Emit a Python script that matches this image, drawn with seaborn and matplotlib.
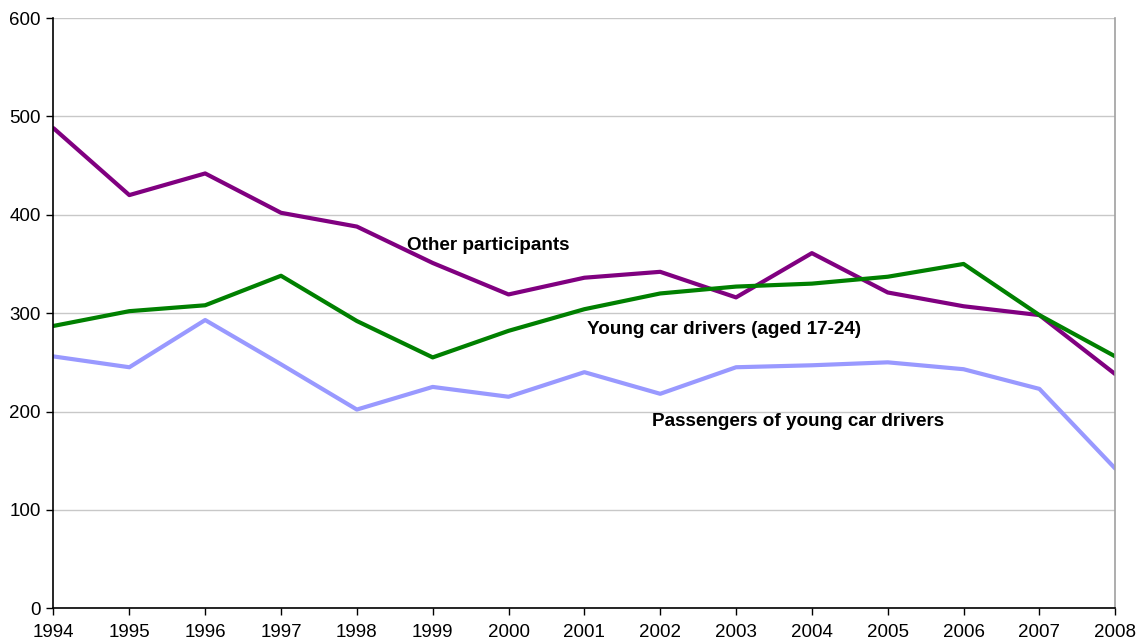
import numpy as np
import pandas as pd
import matplotlib
matplotlib.use("Agg")
import matplotlib.pyplot as plt
import seaborn as sns

sns.set_theme(style="white")
plt.rcParams['font.family'] = ['Liberation Sans', 'DejaVu Sans']

# ---- data ----
years = list(range(1994, 2009))
other_participants = [488, 420, 442, 402, 388, 351, 319, 336, 342, 316, 361, 321, 307, 298, 238]
young_drivers = [287, 302, 308, 338, 292, 255, 282, 304, 320, 327, 330, 337, 350, 298, 256]
passengers = [256, 245, 293, 248, 202, 225, 215, 240, 218, 245, 247, 250, 243, 223, 142]

series_names = ["Other participants", "Young car drivers (aged 17-24)", "Passengers of young car drivers"]
colors = ["#800080", "#008000", "#9999FF"]

df = pd.DataFrame({
    "year": years * 3,
    "value": other_participants + young_drivers + passengers,
    "series": np.repeat(series_names, len(years)),
})

fig = plt.figure(figsize=(11.38, 6.43), dpi=100)
ax = fig.add_axes([0.047, 0.054, 0.933, 0.918])

sns.lineplot(data=df, x="year", y="value", hue="series", palette=colors,
             linewidth=3, legend=False, ax=ax)

ax.set_xlim(1994, 2008)
ax.set_ylim(0, 600)
ax.set_xticks(years)
ax.set_yticks(range(0, 601, 100))
ax.set_xlabel("")
ax.set_ylabel("")
ax.yaxis.grid(True, color="#c8c8c8", linewidth=1)
ax.set_axisbelow(True)

for s in ["left", "bottom"]:
    ax.spines[s].set_color("black")
    ax.spines[s].set_linewidth(1.2)
ax.spines["right"].set_color("#a0a0a0")
ax.spines["right"].set_linewidth(1.2)
ax.spines["top"].set_visible(False)

ax.tick_params(axis="both", which="major", labelsize=13.5, labelcolor="black",
               color="black", direction="out", length=5, width=1,
               bottom=True, left=True)
ax.tick_params(axis="x", pad=6)
ax.tick_params(axis="y", pad=4)

# series labels
ax.text(1998.66, 369, "Other participants", fontsize=13.6, fontweight="bold",
        va="center", color="black")
ax.text(2001.03, 283, "Young car drivers (aged 17-24)", fontsize=13.6, fontweight="bold",
        va="center", color="black")
ax.text(2001.89, 190, "Passengers of young car drivers", fontsize=13.6, fontweight="bold",
        va="center", color="black")

fig.savefig("out.png", dpi=100)
